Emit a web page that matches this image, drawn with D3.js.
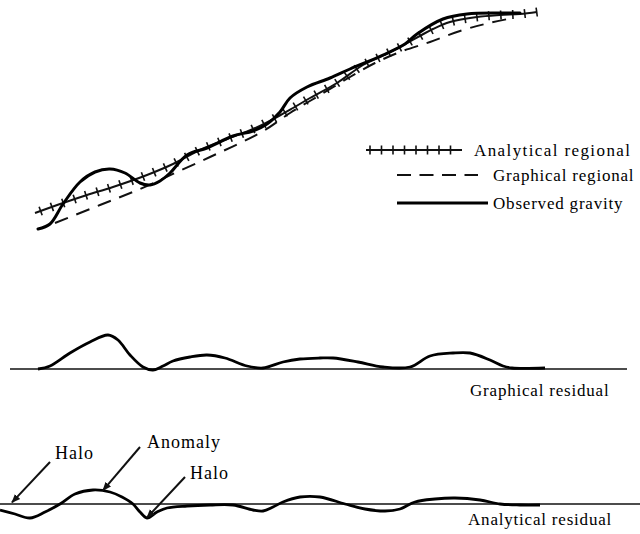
<!DOCTYPE html>
<html>
<head>
<meta charset="utf-8">
<script src="https://cdn.jsdelivr.net/npm/d3@7"></script>
<style>
  body { margin: 0; background: #fff; }
  text { font-family: "Liberation Serif", "Times New Roman", serif; font-size: 17px; letter-spacing: 0.8px; fill: #000; }
  text.note { font-size: 18px; letter-spacing: 1px; }
  text.leg0 { letter-spacing: 1.4px; }
</style>
</head>
<body>
<svg width="640" height="534"></svg>
<script>
// distance along profile (km) and gravity (mGal)

const analyticalDist = [3.5, 6.3, 8.7, 11.3, 14.7, 17.3, 20, 22.7, 25.3, 27.7, 29.3, 31, 33.7, 36.3, 38, 40, 43.3, 45, 47.7, 50, 52, 53.7];
const analyticalGrav = [6.75, 9.25, 11.25, 13.25, 16.25, 19, 22.5, 25.25, 27.75, 30.75, 33, 35.5, 39.25, 43.75, 45.75, 48.25, 52.75, 54.5, 55.75, 56.25, 56.5, 57];

const graphicalDist = [5.5, 10, 14, 17.5, 21, 24, 26.5, 29, 32, 35, 37.5, 40, 43, 46, 48.5, 50.8];
const graphicalGrav = [4.25, 8.75, 12.75, 16.75, 20.75, 24.25, 27.5, 31.75, 36.25, 40.75, 44.25, 47, 49.5, 52.25, 54, 55.25];

const observedDist = [3.8, 5, 6.3, 8, 9.5, 11, 12.5, 14, 15, 16, 17, 18.7, 20.7, 23.3, 25.3, 26.7, 28, 29, 30.7, 33, 35, 38.3, 40.5, 41.7, 44.3, 46.7, 50, 52];
const observedGrav = [2.75, 4, 9, 14.5, 17, 17.75, 16.75, 14.25, 13.75, 14.75, 16.75, 21.25, 23, 26, 27.25, 29, 32, 35.5, 38.25, 40.5, 42.75, 46.25, 49, 51.5, 55.25, 56.5, 56.75, 56.75];

const grResidDist = [3.8, 5, 7, 9, 10.8, 11.8, 13, 14.3, 15.3, 16.3, 17.3, 19, 20.7, 22.5, 24.7, 26.3, 28.3, 30, 32, 33.3, 35.8, 38.3, 41, 43, 45.3, 47, 49, 50.3, 51.2, 54.5];
const grResidVal = [0, 0.75, 4, 6.75, 8.5, 7.25, 3.5, 0.5, -0.25, 0.75, 2, 3, 3.5, 2.75, 0.75, 0.25, 1.75, 2.5, 2.75, 2.75, 1.75, 0.5, 0.5, 3.25, 4, 4, 2.25, 0.75, 0.25, 0.25];

const anResidDist = [0, 1.5, 3, 4.5, 6, 7.5, 9.3, 11, 12.2, 13.3, 14, 14.7, 15.7, 16.7, 18.7, 21, 23.3, 25.3, 26.3, 27.3, 28.3, 30, 32, 34.5, 36.5, 38.5, 40, 41.5, 43.5, 45.5, 48, 50, 52, 54];
const anResidVal = [-1.5, -2.5, -3.5, -2, 0, 2.5, 3.5, 3, 1.75, 0, -2, -3.5, -2, -1, -0.5, -0.25, -0.25, -1.5, -1.75, -0.75, 0.5, 1.75, 1.75, 0, -1.25, -1.75, -1.25, 0.5, 1.25, 1.5, 1, 0, -0.25, -0.25];

const legendLabels = ["Analytical regional", "Graphical regional", "Observed gravity"];
const residualLabels = ["Graphical residual", "Analytical residual"];

// annotations on the analytical residual: label, target (km, mGal)
const noteLabels = ["Halo", "Anomaly", "Halo"];
const noteDist = [1.2, 10.3, 14.7];
const noteVal = [0.4, 3.4, -3.4];

const svg = d3.select('svg');

const x = d3.scaleLinear().domain([0, 64]).range([0, 640]);
const yTop = d3.scaleLinear().domain([0, 60]).range([240, 0]);
const yMid = d3.scaleLinear().domain([0, 10]).range([369, 329]);
const yBot = d3.scaleLinear().domain([0, 10]).range([504, 464]);

const zip = (a, b) => a.map((d, i) => [d, b[i]]);

function curve(yScale) {
  return d3.line()
    .x(d => x(d[0]))
    .y(d => yScale(d[1]))
    .curve(d3.curveCatmullRom.alpha(0.5));
}

// marker for arrows
svg.append('defs').append('marker')
  .attr('id', 'arrow')
  .attr('viewBox', '0 0 10 10')
  .attr('refX', 9)
  .attr('refY', 5)
  .attr('markerWidth', 9)
  .attr('markerHeight', 9)
  .attr('markerUnits', 'userSpaceOnUse')
  .attr('orient', 'auto')
  .append('path')
  .attr('d', 'M0,1 L10,5 L0,9 z')
  .attr('fill', '#111');

// ---- top panel ----
const gTop = svg.append('g');

gTop.append('path')
  .datum(zip(graphicalDist, graphicalGrav))
  .attr('d', curve(yTop))
  .attr('fill', 'none')
  .attr('stroke', '#111')
  .attr('stroke-width', 2)
  .attr('stroke-dasharray', '14,9');

const anPath = gTop.append('path')
  .datum(zip(analyticalDist, analyticalGrav))
  .attr('d', curve(yTop))
  .attr('fill', 'none')
  .attr('stroke', '#111')
  .attr('stroke-width', 2);

// cross ticks along analytical regional
const node = anPath.node();
const total = node.getTotalLength();
const tickPts = d3.range(6, total, 12).map(l => {
  const p = node.getPointAtLength(l);
  const q = node.getPointAtLength(Math.min(total, l + 1));
  const ang = Math.atan2(q.y - p.y, q.x - p.x);
  return { x: p.x, y: p.y, ang: ang };
});
gTop.selectAll('line.tick')
  .data(tickPts)
  .enter()
  .append('line')
  .attr('class', 'tick')
  .attr('x1', d => d.x - 4.5 * Math.sin(d.ang))
  .attr('y1', d => d.y + 4.5 * Math.cos(d.ang))
  .attr('x2', d => d.x + 4.5 * Math.sin(d.ang))
  .attr('y2', d => d.y - 4.5 * Math.cos(d.ang))
  .attr('stroke', '#111')
  .attr('stroke-width', 1.6);

gTop.append('path')
  .datum(zip(observedDist, observedGrav))
  .attr('d', curve(yTop))
  .attr('fill', 'none')
  .attr('stroke', '#000')
  .attr('stroke-width', 3)
  .attr('stroke-linecap', 'round');

// legend
const legend = svg.append('g');
legend.append('line')
  .attr('x1', 366).attr('x2', 462).attr('y1', 150).attr('y2', 150)
  .attr('stroke', '#111').attr('stroke-width', 2);
legend.selectAll('line.lt')
  .data(d3.range(370, 462, 11.5))
  .enter()
  .append('line')
  .attr('class', 'lt')
  .attr('x1', d => d).attr('x2', d => d)
  .attr('y1', 145.5).attr('y2', 154.5)
  .attr('stroke', '#111').attr('stroke-width', 1.6);
legend.append('line')
  .attr('x1', 397).attr('x2', 478).attr('y1', 175).attr('y2', 175)
  .attr('stroke', '#111').attr('stroke-width', 2)
  .attr('stroke-dasharray', '14,8.5');
legend.append('line')
  .attr('x1', 397).attr('x2', 488).attr('y1', 203).attr('y2', 203)
  .attr('stroke', '#000').attr('stroke-width', 3);

legend.selectAll('text')
  .data(legendLabels)
  .enter()
  .append('text')
  .attr('class', (d, i) => 'leg' + i)
  .attr('x', (d, i) => i === 0 ? 474 : 493)
  .attr('y', (d, i) => [156, 181, 209][i])
  .text(d => d);

// ---- graphical residual ----
const gMid = svg.append('g');
gMid.append('line')
  .attr('x1', x(1)).attr('x2', x(62.7))
  .attr('y1', yMid(0)).attr('y2', yMid(0))
  .attr('stroke', '#111').attr('stroke-width', 1.5);
gMid.append('path')
  .datum(zip(grResidDist, grResidVal))
  .attr('d', curve(yMid))
  .attr('fill', 'none')
  .attr('stroke', '#000')
  .attr('stroke-width', 2.8);
gMid.append('text')
  .attr('x', 470)
  .attr('y', 396)
  .text(residualLabels[0]);

// ---- analytical residual ----
const gBot = svg.append('g');
gBot.append('line')
  .attr('x1', x(0)).attr('x2', x(64))
  .attr('y1', yBot(0)).attr('y2', yBot(0))
  .attr('stroke', '#111').attr('stroke-width', 1.5);
gBot.append('path')
  .datum(zip(anResidDist, anResidVal))
  .attr('d', curve(yBot))
  .attr('fill', 'none')
  .attr('stroke', '#000')
  .attr('stroke-width', 2.8);
gBot.append('text')
  .attr('x', 468)
  .attr('y', 525)
  .text(residualLabels[1]);

// annotations
const notes = noteLabels.map((d, i) => ({
  label: d,
  tx: x(noteDist[i]),
  ty: yBot(noteVal[i]),
  sx: [50, 140, 185][i],
  sy: [462, 447, 477][i],
  lx: [55, 147, 190][i],
  ly: [459, 448, 479][i]
}));
gBot.selectAll('line.arrow')
  .data(notes)
  .enter()
  .append('line')
  .attr('class', 'arrow')
  .attr('x1', d => d.sx).attr('y1', d => d.sy)
  .attr('x2', d => d.tx).attr('y2', d => d.ty)
  .attr('stroke', '#111').attr('stroke-width', 2)
  .attr('marker-end', 'url(#arrow)');
gBot.selectAll('text.note')
  .data(notes)
  .enter()
  .append('text')
  .attr('class', 'note')
  .attr('x', d => d.lx)
  .attr('y', d => d.ly)
  .text(d => d.label);
</script>
</body>
</html>
